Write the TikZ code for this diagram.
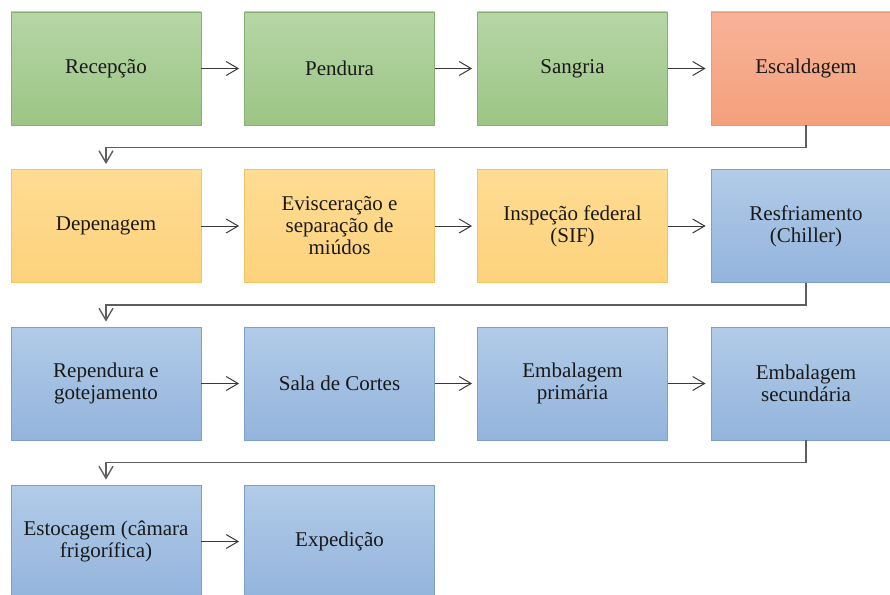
\documentclass[tikz,border=0pt]{standalone}
\usepackage{fontspec}
\setmainfont{Liberation Serif}
\usetikzlibrary{arrows.meta,positioning}
\definecolor{fggreen}{HTML}{B6D6A6}
\definecolor{fggreend}{HTML}{9CC585}
\definecolor{fgbgreen}{HTML}{86B06F}
\definecolor{fgorange}{HTML}{F8B398}
\definecolor{fgoranged}{HTML}{F4A07C}
\definecolor{fgborange}{HTML}{E99A78}
\definecolor{fgyellow}{HTML}{FEDC93}
\definecolor{fgyellowd}{HTML}{FDD27C}
\definecolor{fgbyellow}{HTML}{F2C564}
\definecolor{fgblue}{HTML}{B2CBE8}
\definecolor{fgblued}{HTML}{93B4DC}
\definecolor{fgbblue}{HTML}{7E9FC8}
\definecolor{fgline}{HTML}{3A3A3A}
\definecolor{fgret}{HTML}{5E5E5E}
\begin{document}
\begin{tikzpicture}[
      x=1pt, y=1pt,
      font=\rmfamily\fontsize{21}{22}\selectfont,
      box/.style={draw, line width=0.8pt, align=center, inner sep=2pt,
                  minimum width=190pt, minimum height=113pt, text=black!90},
      greenbox/.style={box, draw=fgbgreen, top color=fggreen, bottom color=fggreend},
      orangebox/.style={box, draw=fgborange, top color=fgorange, bottom color=fgoranged},
      yellowbox/.style={box, draw=fgbyellow, top color=fgyellow, bottom color=fgyellowd},
      bluebox/.style={box, draw=fgbblue, top color=fgblue, bottom color=fgblued},
      arr/.style={-{Straight Barb[length=12pt,width=14pt]}, line width=1pt,
                  draw=fgline, shorten >=5pt},
      ret/.style={arr, draw=fgret, line width=1.4pt}
    ]
    \useasboundingbox (0,0) rectangle (890,-594);
    \clip (0,0) rectangle (890,-594);
    % row 1
    \node[greenbox] (a1) at (106,-68.5) {Recepção};
    \node[greenbox] (a2) at (339.5,-68.5) {Pendura};
    \node[greenbox] (a3) at (572.5,-68.5) {Sangria};
    \node[orangebox] (a4) at (806,-68.5) {Escaldagem};
    % row 2
    \node[yellowbox] (b1) at (106,-226) {Depenagem};
    \node[yellowbox] (b2) at (339.5,-226) {Evisceração e\\separação de\\miúdos};
    \node[yellowbox] (b3) at (572.5,-226) {Inspeção federal\\(SIF)};
    \node[bluebox] (b4) at (806,-226) {Resfriamento\\(Chiller)};
    % row 3
    \node[bluebox] (c1) at (106,-383.5) {Rependura e\\gotejamento};
    \node[bluebox] (c2) at (339.5,-383.5) {Sala de Cortes};
    \node[bluebox] (c3) at (572.5,-383.5) {Embalagem\\primária};
    \node[bluebox] (c4) at (806,-383.5) {Embalagem\\secundária};
    % row 4
    \node[bluebox] (d1) at (106,-541.5) {Estocagem (câmara\\frigorífica)};
    \node[bluebox] (d2) at (339.5,-541.5) {Expedição};
    \draw[arr] (a1)--(a2);
    \draw[arr] (a2)--(a3);
    \draw[arr] (a3)--(a4);
    \draw[arr] (b1)--(b2);
    \draw[arr] (b2)--(b3);
    \draw[arr] (b3)--(b4);
    \draw[arr] (c1)--(c2);
    \draw[arr] (c2)--(c3);
    \draw[arr] (c3)--(c4);
    \draw[arr] (d1)--(d2);
    \draw[ret] (a4.south) -- ++(0,-22) -| (b1.north);
    \draw[ret] (b4.south) -- ++(0,-22) -| (c1.north);
    \draw[ret] (c4.south) -- ++(0,-22) -| (d1.north);
  \end{tikzpicture}
\end{document}
